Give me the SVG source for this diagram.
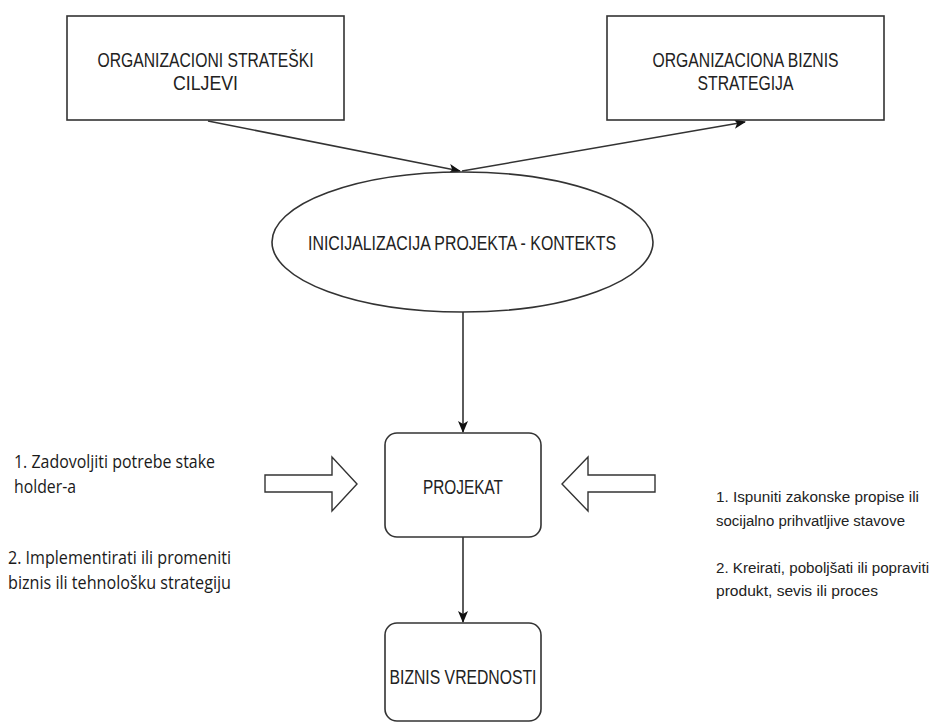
<svg xmlns="http://www.w3.org/2000/svg" width="944" height="724" viewBox="0 0 944 724">
<style>
.box{fill:#fff;stroke:#333;stroke-width:1.6}
.ln{fill:none;stroke:#333;stroke-width:1.6}
.t{font-family:"Liberation Sans",Arial,sans-serif;font-size:19.5px;fill:#222;text-anchor:middle}
.c{font-family:"Open Sans","Noto Sans",sans-serif;font-size:18px;fill:#1a1a1a}
.a{font-family:"Liberation Sans",Arial,sans-serif;font-size:15.5px;fill:#222}
.blk{fill:#fff;stroke:#333;stroke-width:1.4;stroke-linejoin:miter}
</style>
<defs>
<marker id="ah" viewBox="0 0 12 10" refX="11" refY="5" markerWidth="12" markerHeight="10" markerUnits="userSpaceOnUse" orient="auto">
<path d="M0,0 L12,5 L0,10 L3,5 Z" fill="#111"/>
</marker>
</defs>
<rect width="944" height="724" fill="#fff"/>

<g id="connectors">
<line class="ln" x1="208" y1="121" x2="460" y2="171" marker-end="url(#ah)"/>
<line class="ln" x1="462" y1="171" x2="745" y2="122" marker-end="url(#ah)"/>
<line class="ln" x1="463" y1="312" x2="463" y2="432" marker-end="url(#ah)"/>
<line class="ln" x1="463" y1="537" x2="463" y2="622" marker-end="url(#ah)"/>
</g>

<g id="n-ciljevi">
<rect class="box" x="67" y="16" width="277" height="104"/>
<text class="t" x="205.5" y="67" textLength="216" lengthAdjust="spacingAndGlyphs">ORGANIZACIONI STRATEŠKI</text>
<text class="t" x="205.5" y="90" textLength="65" lengthAdjust="spacingAndGlyphs">CILJEVI</text>
</g>

<g id="n-strategija">
<rect class="box" x="607" y="16" width="277" height="104"/>
<text class="t" x="745.5" y="67" textLength="186" lengthAdjust="spacingAndGlyphs">ORGANIZACIONA BIZNIS</text>
<text class="t" x="745.5" y="90" textLength="96" lengthAdjust="spacingAndGlyphs">STRATEGIJA</text>
</g>

<g id="n-inicijalizacija">
<ellipse class="box" cx="462.5" cy="242" rx="190.5" ry="70"/>
<text class="t" x="462" y="250" textLength="308" lengthAdjust="spacingAndGlyphs">INICIJALIZACIJA PROJEKTA - KONTEKTS</text>
</g>

<g id="n-projekat">
<rect class="box" x="385" y="433" width="156" height="104" rx="12" ry="12"/>
<text class="t" x="463" y="494" textLength="80" lengthAdjust="spacingAndGlyphs">PROJEKAT</text>
</g>

<g id="n-biznis-vrednosti">
<rect class="box" x="385" y="623" width="156" height="98" rx="12" ry="12"/>
<text class="t" x="463" y="684" textLength="147" lengthAdjust="spacingAndGlyphs">BIZNIS VREDNOSTI</text>
</g>

<g id="n-arrow-left">
<path class="blk" d="M265,475 L332,475 L332,457 L357,484 L332,511 L332,492 L265,492 Z"/>
</g>

<g id="n-arrow-right">
<path class="blk" d="M655,475 L588,475 L588,457 L562,484 L588,511 L588,492 L655,492 Z"/>
</g>

<g id="n-text-left">
<text class="c" x="14" y="468" textLength="201" lengthAdjust="spacingAndGlyphs">1. Zadovoljiti potrebe stake</text>
<text class="c" x="14" y="493" textLength="62" lengthAdjust="spacingAndGlyphs">holder-a</text>
<text class="c" x="8" y="564" textLength="223" lengthAdjust="spacingAndGlyphs">2. Implementirati ili promeniti</text>
<text class="c" x="8" y="589" textLength="223" lengthAdjust="spacingAndGlyphs">biznis ili tehnološku strategiju</text>
</g>

<g id="n-text-right">
<text class="a" x="716" y="502" textLength="203" lengthAdjust="spacingAndGlyphs">1. Ispuniti zakonske propise ili</text>
<text class="a" x="716" y="526" textLength="189" lengthAdjust="spacingAndGlyphs">socijalno prihvatljive stavove</text>
<text class="a" x="716" y="573" textLength="213" lengthAdjust="spacingAndGlyphs">2. Kreirati, poboljšati ili popraviti</text>
<text class="a" x="716" y="596" textLength="162" lengthAdjust="spacingAndGlyphs">produkt, sevis ili proces</text>
</g>
</svg>
